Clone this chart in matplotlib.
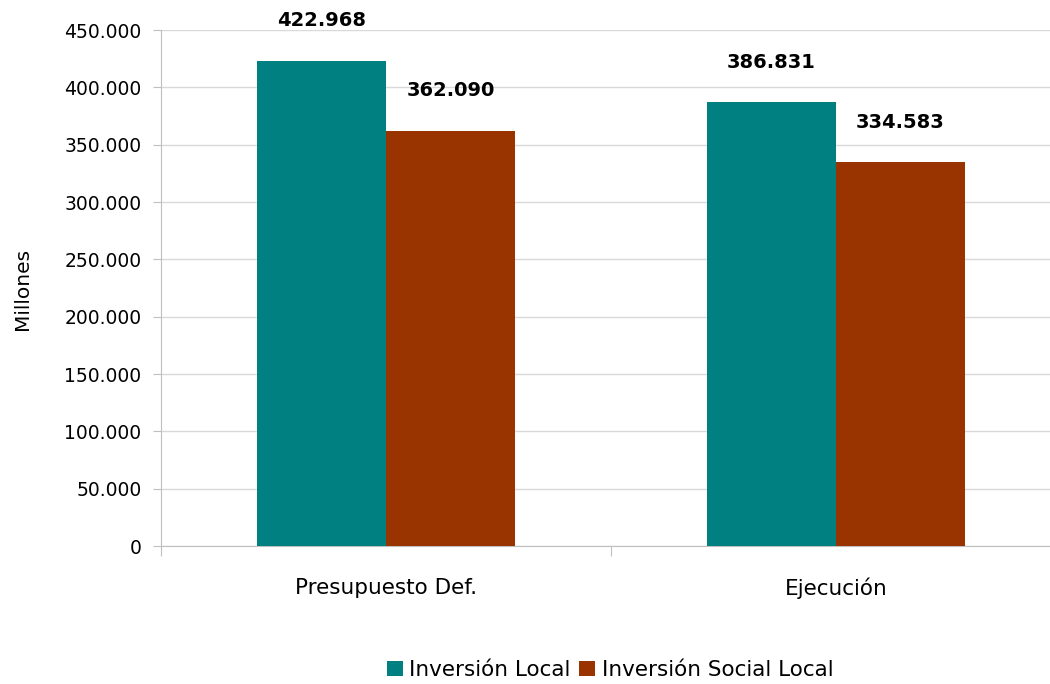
import matplotlib
matplotlib.use("Agg")
import matplotlib.pyplot as plt
import numpy as np

categories = ["Presupuesto Def.", "Ejecución"]
series_names = ["Inversión Local", "Inversión Social Local"]
inversion_local = [422968, 386831]
inversion_social_local = [362090, 334583]
value_labels_local = ["422.968", "386.831"]
value_labels_social = ["362.090", "334.583"]
yticks = [0, 50000, 100000, 150000, 200000, 250000, 300000, 350000, 400000, 450000]
ytick_labels = ["0", "50.000", "100.000", "150.000", "200.000", "250.000",
                "300.000", "350.000", "400.000", "450.000"]
colors = ["#008080", "#993300"]

W, H = 1050, 684
fig = plt.figure(figsize=(W / 100, H / 100), dpi=100)
ax = fig.add_axes([161 / W, 138 / H, 900 / W, 516 / H])

x = np.arange(len(categories))
bw = 0.2867
b1 = ax.bar(x - bw / 2, inversion_local, bw, color=colors[0], label=series_names[0], zorder=3)
b2 = ax.bar(x + bw / 2, inversion_social_local, bw, color=colors[1], label=series_names[1], zorder=3)

for rects, labs in ((b1, value_labels_local), (b2, value_labels_social)):
    for r, lab in zip(rects, labs):
        ax.annotate(lab, (r.get_x() + r.get_width() / 2, r.get_height()),
                    xytext=(0, 29), textcoords="offset points",
                    ha="center", va="center", fontsize=14, fontweight="bold")

ax.set_xlim(-0.5, 1.5)
ax.set_ylim(0, 450000)
ax.set_yticks(yticks)
ax.set_yticklabels(ytick_labels, fontsize=13.5)
ax.set_xticks([-0.5, 0.5, 1.5])
ax.set_xticklabels(["", "", ""])
ax.set_xticks(x, minor=True)
ax.set_xticklabels(categories, minor=True, fontsize=15.5)
ax.tick_params(axis="x", which="minor", length=0, pad=23)
ax.tick_params(axis="x", which="major", length=7, color="#bfbfbf", direction="out")
ax.tick_params(axis="y", length=6, color="#bfbfbf", pad=8)

ax.grid(axis="y", color="#d9d9d9", linewidth=1, zorder=0)
for s in ("top", "right"):
    ax.spines[s].set_visible(False)
ax.spines["left"].set_color("#bfbfbf")
ax.spines["bottom"].set_color("#bfbfbf")

fig.text(22 / W, 1 - 289 / H, "Millones", rotation=90, ha="center", va="center", fontsize=14.5)

fig.legend(loc="center", bbox_to_anchor=(610 / W, 1 - 670 / H), ncol=2, frameon=False,
           fontsize=15.5, handlelength=0.75, handleheight=0.75, handletextpad=0.3,
           columnspacing=0.4)

fig.savefig("out.png", dpi=100)
